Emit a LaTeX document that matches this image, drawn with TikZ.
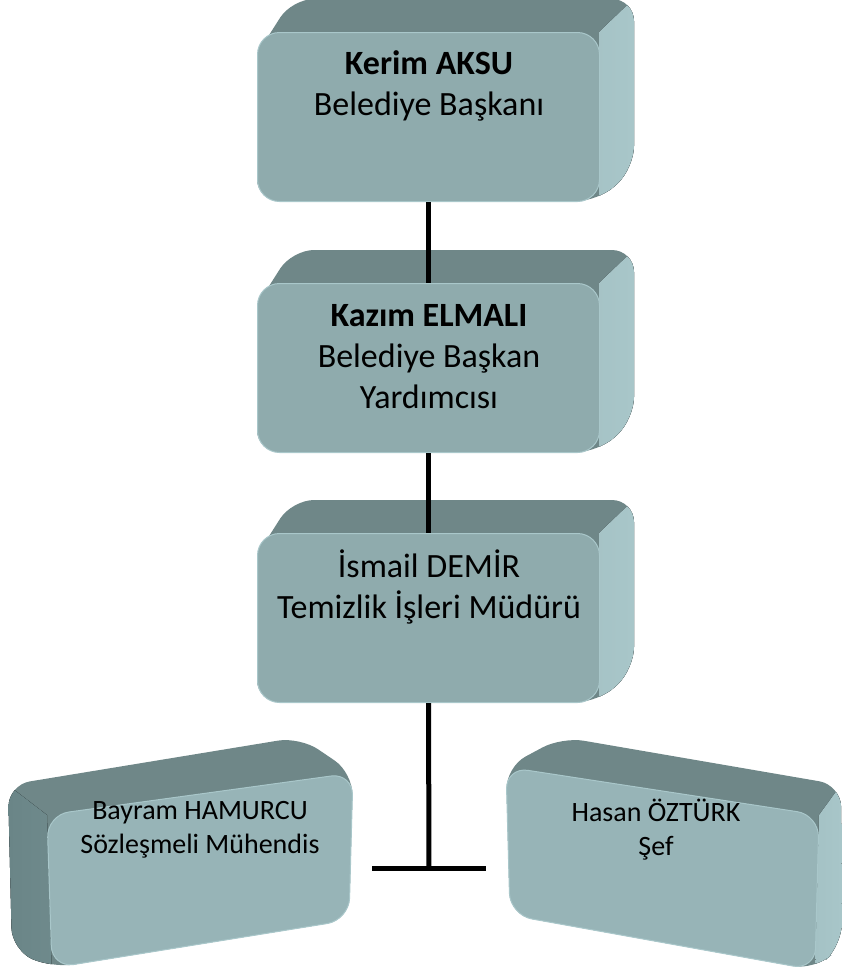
\documentclass[tikz,border=0pt]{standalone}
\usepackage{fontspec}
\setmainfont{Carlito}
\usepackage{tikz}
\usetikzlibrary{calc}
\definecolor{frontc}{HTML}{8FABAD}
\definecolor{frontlow}{HTML}{97B4B7}
\definecolor{edgec}{HTML}{A9C7CA}
\definecolor{topc}{HTML}{6F8788}
\definecolor{sidein}{HTML}{8FA9AB}
\definecolor{sideout}{HTML}{A8C6C9}
\definecolor{sidedark}{HTML}{6A8587}

\begin{document}
\begin{tikzpicture}[x=1pt,y=-1pt,
        frontface/.style={fill=frontc,draw=edgec,line width=1pt,rounded corners=22pt,
            minimum width=342pt,minimum height=169pt,inner sep=0pt,anchor=north west},
        topface/.style={fill=topc,rounded corners=22pt},
        sideface/.style={left color=sidein,right color=sideout,rounded corners=22pt},
        link/.style={line width=5pt,black},
        bigtext/.style={align=center,anchor=base,inner sep=0pt,font=\fontsize{34}{41}\selectfont},
        smalltext/.style={align=center,anchor=base,inner sep=0pt,font=\fontsize{28}{34}\selectfont}]
                            \useasboundingbox (0,0) rectangle (842,975);
                            % the three boxes in the middle column
                            \foreach \nm/\y in {kerim/32,kazim/283,ismail/533}
                            {
                                \fill [topface] (257,\y+22) -- (292,\y-33) -- (634,\y-33) -- (634,\y+136)
                                    -- (599,\y+169) -- (257,\y+169) -- cycle;
                                \begin{scope}
                                    \clip (599,\y) -- (645,\y-44) -- (660,\y-44) -- (660,\y+200) -- (599,\y+200) -- cycle;
                                    \fill [sideface] (257,\y+22) -- (292,\y-33) -- (634,\y-33) -- (634,\y+136)
                                        -- (599,\y+169) -- (257,\y+169) -- cycle;
                                \end{scope}
                                \node [frontface] (\nm) at (257,\y) {};
                            }
                            % lower left box
                            \fill [topface] (353,773) -- (300,737) -- (8,785) -- (12,950) -- (52,968) -- (349,920) -- cycle;
                            \begin{scope}
                                \clip (47,815) -- (-5,775) -- (-5,980) -- (52,980) -- cycle;
                                \fill [rounded corners=22pt,left color=sidedark,right color=frontc]
                                    (353,773) -- (300,737) -- (8,785) -- (12,950) -- (52,968) -- (349,920) -- cycle;
                            \end{scope}
                            \fill [rounded corners=22pt,fill=frontlow,draw=edgec,line width=1pt]
                                (47,815) -- (353,773) -- (349,920) -- (52,968) -- cycle;
                            % lower right box
                            \fill [topface] (506,767) -- (562,737) -- (841,785) -- (842,945) -- (815,970) -- (510,915) -- cycle;
                            \begin{scope}
                                \clip (819,815) -- (848,775) -- (850,775) -- (850,980) -- (815,980) -- cycle;
                                \fill [rounded corners=22pt,left color=sidedark!60!frontc,right color=sideout]
                                    (506,767) -- (562,737) -- (841,785) -- (842,945) -- (815,970) -- (510,915) -- cycle;
                            \end{scope}
                            \fill [rounded corners=22pt,fill=frontlow,draw=edgec,line width=1pt]
                                (506,767) -- (819,815) -- (815,970) -- (510,915) -- cycle;
                            % texts
                            \node [bigtext] (kerimtxt) at (429,115) {\bfseries Kerim AKSU\\Belediye Başkanı};
                            \node [bigtext] (kazimtxt) at (429,408) {\bfseries Kazım ELMALI\\Belediye Başkan\\Yardımcısı};
                            \node [bigtext] (ismailtxt) at (429,618) {İsmail DEMİR\\Temizlik İşleri Müdürü};
                            \node [smalltext] (bayram) at (200,853) {Bayram HAMURCU\\Sözleşmeli Mühendis};
                            \node [smalltext] (hasan) at (656,855) {Hasan ÖZTÜRK\\Şef};
                            % connectors
                            \coordinate (tee) at (429,868);
                            \coordinate (teeleft) at (372,868);
                            \coordinate (teeright) at (486,868);
                            \draw [link] (kerim.south) -- (kazim.north);
                            \draw [link] (kazim.south) -- (ismail.north);
                            \draw [link] (ismail.south) -- (tee);
                            \draw [link] (teeleft) -- (teeright);
                        \end{tikzpicture}
\end{document}
